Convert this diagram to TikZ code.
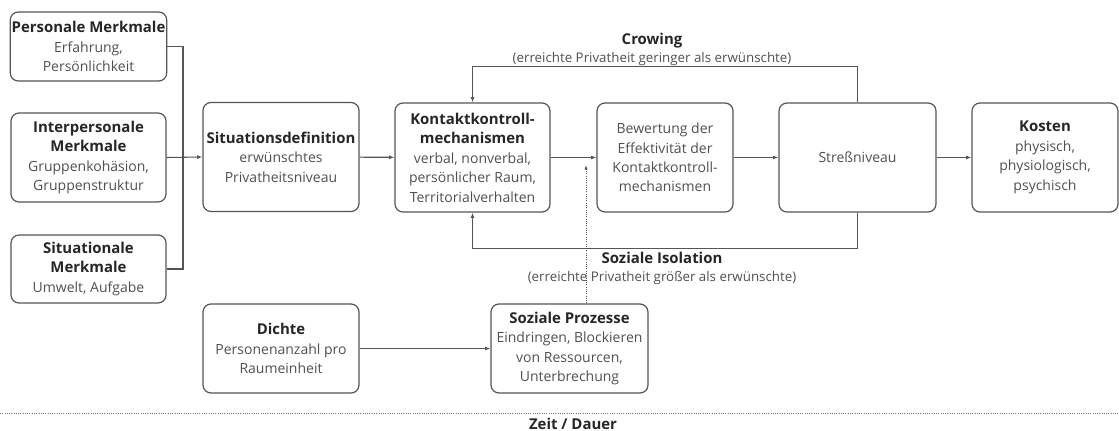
\documentclass[tikz,border=0pt]{standalone}
\usepackage{fontspec}
\setmainfont{Open Sans}
\definecolor{LineGray}{HTML}{555555}
\definecolor{TextGray}{HTML}{505050}
\definecolor{TitleGray}{HTML}{262626}
\usetikzlibrary{arrows.meta}
\tikzset{
  % Box styles
  box/.style={rectangle, rounded corners=6pt, draw=LineGray, line width=0.9pt, align=center, text=TextGray, inner sep=1pt, font=\fontsize{10.5}{14.6}\selectfont},
  mainbox/.style={box, minimum height=81.75pt},
  % Arrow styles
  link/.style={line width=0.8pt, LineGray},
  arrow/.style={-{Latex[length=4pt,width=3pt]}, line width=0.8pt, LineGray},
  dotarrow/.style={-{Latex[length=3.5pt,width=2.5pt]}, densely dotted, line width=0.7pt, LineGray},
  % Label styles
  looplabel/.style={align=center, text=TextGray, font=\fontsize{10}{13.2}\selectfont}
}
\newcommand{\hd}[1]{{\fontsize{11.2}{14.6}\selectfont\bfseries\color{TitleGray}#1}}

\begin{document}
\begin{tikzpicture}[x=0.75pt, y=-0.75pt]
  \useasboundingbox (0,0) rectangle (1119,431);

  % Input factors
  \node[box, minimum width=116.25pt, minimum height=51.75pt] (personal) at (88.5,46.5) {\hd{Personale Merkmale}\\Erfahrung,\\Persönlichkeit};
  \node[box, minimum width=116.25pt, minimum height=66.75pt] (interpers) at (88.5,157.5) {\hd{Interpersonale}\\\hd{Merkmale}\\Gruppenkohäsion,\\Gruppenstruktur};
  \node[box, minimum width=116.25pt, minimum height=51pt] (situational) at (88.5,269) {\hd{Situationale}\\\hd{Merkmale}\\Umwelt, Aufgabe};

  % Main chain
  \node[mainbox, minimum width=117pt] (sitdef) at (281,157) {\hd{Situationsdefinition}\\erwünschtes\\Privatheitsniveau};
  \node[mainbox, minimum width=116.25pt] (contact) at (472.5,157.5) {\hd{Kontaktkontroll-}\\\hd{mechanismen}\\verbal, nonverbal,\\persönlicher Raum,\\Territorialverhalten};
  \node[mainbox, minimum width=102pt] (evaluation) at (665,157.5) {Bewertung der\\Effektivität der\\Kontaktkontroll-\\mechanismen};
  \node[mainbox, minimum width=117.75pt] (stress) at (857.5,157.5) {Streßniveau};
  \node[mainbox, minimum width=109.5pt] (costs) at (1045,157.5) {\hd{Kosten}\\physisch,\\physiologisch,\\psychisch};

  % Density and social processes
  \node[box, minimum width=117pt, minimum height=66.75pt] (density) at (281,348.5) {\hd{Dichte}\\Personenanzahl pro\\Raumeinheit};
  \node[box, minimum width=117.75pt, minimum height=66.75pt] (social) at (569.5,348.5) {\hd{Soziale Prozesse}\\Eindringen, Blockieren\\von Ressourcen,\\Unterbrechung};

  % Feedback labels
  \node[looplabel] (crowlabel) at (652,49.5) {\hd{Crowing}\\(erreichte Privatheit geringer als erwünschte)};
  \node[looplabel] (isolabel) at (662,268.5) {\hd{Soziale Isolation}\\(erreichte Privatheit größer als erwünschte)};

  % Arrows
  \coordinate (merge) at (183,157);
  \draw[link] (personal.east) -| (merge) |- (situational.east);
  \draw[arrow] (interpers.east) -- (sitdef.west);
  \draw[arrow] (sitdef) -- (contact);
  \draw[arrow] (contact) -- (evaluation);
  \draw[arrow] (evaluation) -- (stress);
  \draw[arrow] (stress) -- (costs);
  \draw[arrow] (stress.north) -- ++(0,-36) -| (contact.north);
  \draw[arrow] (stress.south) -- ++(0,36) -| (contact.south);
  \draw[arrow] (density) -- (social);
  \coordinate (tip) at (586,165);
  \draw[dotarrow] (social.north -| tip) -- (tip);

  % Time axis
  \coordinate (tleft) at (0,413);
  \coordinate (tright) at (1119,413);
  \draw[LineGray!80, densely dotted, line width=0.7pt] (tleft) -- (tright);
  \node[looplabel] (time) at (573,424) {\hd{Zeit / Dauer}};
\end{tikzpicture}
\end{document}
